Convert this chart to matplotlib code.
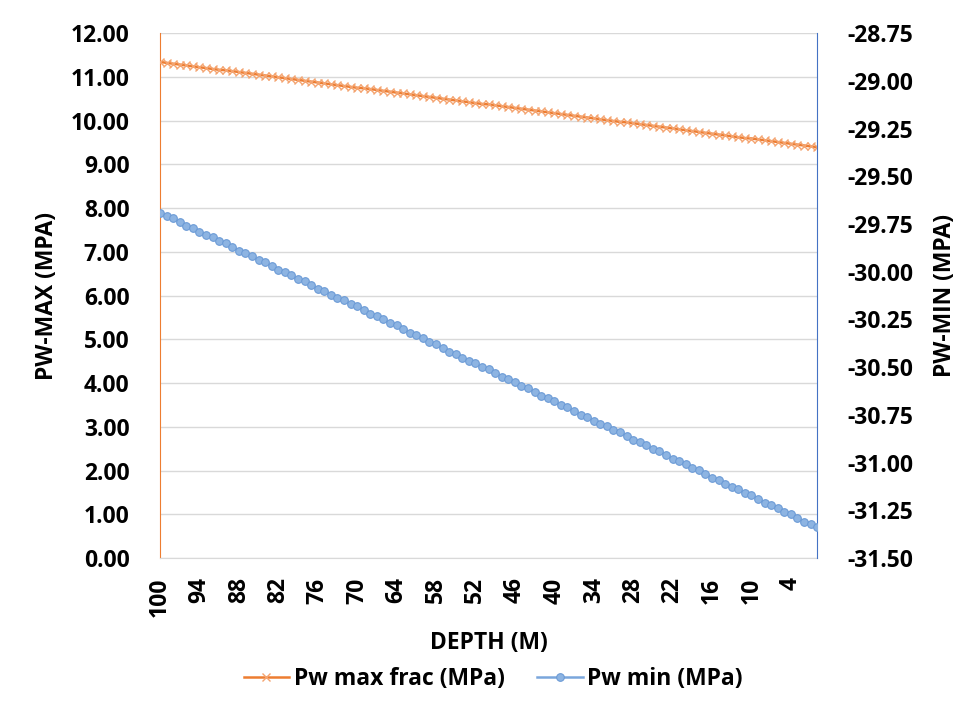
import matplotlib
matplotlib.use("Agg")
import matplotlib.pyplot as plt

plt.rcParams["font.family"] = ["Open Sans", "DejaVu Sans"]
plt.rcParams["font.weight"] = "bold"

depth = list(range(100, -1, -1))  # 100 .. 0 m

pw_max = [
    11.34, 11.32, 11.30, 11.28, 11.26, 11.24, 11.22, 11.20, 11.18, 11.16,
    11.15, 11.13, 11.11, 11.09, 11.07, 11.05, 11.03, 11.01, 10.99, 10.97,
    10.95, 10.93, 10.91, 10.89, 10.87, 10.85, 10.83, 10.81, 10.79, 10.77,
    10.75, 10.74, 10.72, 10.70, 10.68, 10.66, 10.64, 10.62, 10.60, 10.58,
    10.56, 10.54, 10.52, 10.50, 10.48, 10.46, 10.44, 10.42, 10.40, 10.38,
    10.37, 10.35, 10.33, 10.31, 10.29, 10.27, 10.25, 10.23, 10.21, 10.19,
    10.17, 10.15, 10.13, 10.11, 10.09, 10.07, 10.05, 10.03, 10.01, 9.99,
    9.97, 9.96, 9.94, 9.92, 9.90, 9.88, 9.86, 9.84, 9.82, 9.80,
    9.78, 9.76, 9.74, 9.72, 9.70, 9.68, 9.66, 9.64, 9.62, 9.60,
    9.59, 9.57, 9.55, 9.53, 9.51, 9.49, 9.47, 9.45, 9.43, 9.41,
    9.39,
]

pw_min = [
    -29.69, -29.71, -29.72, -29.74, -29.76, -29.77, -29.79, -29.81, -29.82, -29.84,
    -29.85, -29.87, -29.89, -29.90, -29.92, -29.94, -29.95, -29.97, -29.99, -30.00,
    -30.02, -30.04, -30.05, -30.07, -30.09, -30.10, -30.12, -30.14, -30.15, -30.17,
    -30.18, -30.20, -30.22, -30.23, -30.25, -30.27, -30.28, -30.30, -30.32, -30.33,
    -30.35, -30.37, -30.38, -30.40, -30.42, -30.43, -30.45, -30.47, -30.48, -30.50,
    -30.51, -30.53, -30.55, -30.56, -30.58, -30.60, -30.61, -30.63, -30.65, -30.66,
    -30.68, -30.70, -30.71, -30.73, -30.75, -30.76, -30.78, -30.80, -30.81, -30.83,
    -30.84, -30.86, -30.88, -30.89, -30.91, -30.93, -30.94, -30.96, -30.98, -30.99,
    -31.01, -31.03, -31.04, -31.06, -31.08, -31.09, -31.11, -31.13, -31.14, -31.16,
    -31.17, -31.19, -31.21, -31.22, -31.24, -31.26, -31.27, -31.29, -31.31, -31.32,
    -31.34,
]

left_ticks = [0, 1, 2, 3, 4, 5, 6, 7, 8, 9, 10, 11, 12]
right_ticks = [-31.5, -31.25, -31.0, -30.75, -30.5, -30.25, -30.0, -29.75, -29.5, -29.25, -29.0, -28.75]

ORANGE = "#ed7d31"
BLUE = "#7aa6dc"
FS = 16.5

fig = plt.figure(figsize=(9.67, 7.04), dpi=100)
ax = fig.add_axes([0.1655, 0.2074, 0.845 - 0.1655, 0.953 - 0.2074])
ax2 = ax.twinx()

x = list(range(len(depth)))
l1, = ax.plot(x, pw_max, color=ORANGE, lw=1.8, marker="x", ms=5.5, mew=1.0,
              mec="#f4a470", label="Pw max frac (MPa)", zorder=3)
l2, = ax2.plot(x, pw_min, color=BLUE, lw=1.8, marker="o", ms=5.5,
               mfc="#8db4e2", mec="#6c9bd6", mew=0.8, label="Pw min (MPa)", zorder=3)

ax.set_xlim(0, len(depth) - 1)
ax.set_ylim(0, 12)
ax2.set_ylim(-31.5, -28.75)
ax.set_yticks(left_ticks)
ax.set_yticklabels([f"{v:.2f}" for v in left_ticks])
ax2.set_yticks(right_ticks)
ax2.set_yticklabels([f"{v:.2f}" for v in right_ticks])

xt = x[::6]
ax.set_xticks(xt)
ax.set_xticklabels([str(depth[i]) for i in xt], rotation=90)

ax.grid(axis="y", color="#d9d9d9", lw=1.0)
ax.set_axisbelow(True)

for a in (ax, ax2):
    a.tick_params(length=0, labelsize=FS)
    a.spines["top"].set_visible(False)
ax.tick_params(axis="y", pad=22)
ax2.tick_params(axis="y", pad=22)
ax.tick_params(axis="x", pad=14)

ax.spines["left"].set_color(ORANGE)
ax.spines["right"].set_visible(False)
ax.spines["bottom"].set_color("#d9d9d9")
ax2.spines["left"].set_visible(False)
ax2.spines["bottom"].set_visible(False)
ax2.spines["right"].set_color("#4472c4")

ax.set_xlabel("DEPTH (M)", fontsize=FS, fontweight="bold", labelpad=10)
ax.set_ylabel("PW-MAX (MPA)", fontsize=FS, fontweight="bold", labelpad=8)
ax2.set_ylabel("PW-MIN (MPA)", fontsize=FS, fontweight="bold", labelpad=14, rotation=90)

fig.legend([l1, l2], ["Pw max frac (MPa)", "Pw min (MPa)"], loc="center",
           bbox_to_anchor=(0.51, 0.035), ncol=2, frameon=False, fontsize=FS,
           handlelength=2.0, handletextpad=0.2, columnspacing=1.4)

fig.savefig("out.png", dpi=100)
